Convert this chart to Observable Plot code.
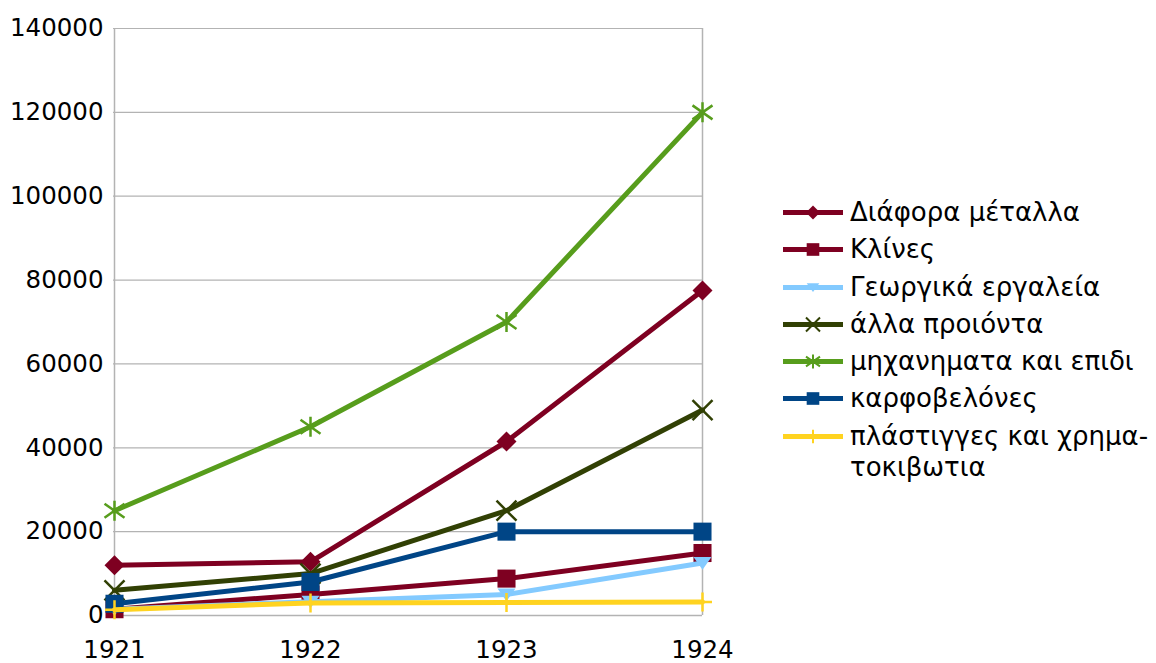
<!DOCTYPE html>
<html>
<head>
<meta charset="utf-8">
<script src="https://cdn.jsdelivr.net/npm/d3@7"></script>
<script src="https://cdn.jsdelivr.net/npm/@observablehq/plot@0.6"></script>
<style>
  html, body { margin: 0; padding: 0; background: #fff; }
  #wrap { position: relative; width: 1156px; height: 663px; font-family: "DejaVu Sans", sans-serif; }
  #legend { position: absolute; left: 783px; top: 0; }
  .item { position: absolute; left: 0; display: flex; align-items: flex-start; white-space: nowrap; }
  .item svg { flex: none; }
  .item span { font-size: 26px; line-height: 31px; color: #000; margin-left: 7px; }
</style>
</head>
<body>
<div id="wrap"><div id="legend"></div></div>
<script>
// ---- data ----
const years = ["1921", "1922", "1923", "1924"];
const seriesNames = [
  "Διάφορα μέταλλα",
  "Κλίνες",
  "Γεωργικά εργαλεία",
  "άλλα προιόντα",
  "μηχανηματα και επιδι",
  "καρφοβελόνες",
  "πλάστιγγες και χρημα-\nτοκιβωτια"
];
const diaforaMetalla = [12000, 12800, 41500, 77500];
const klines = [1500, 5000, 8800, 14900];
const georgikaErgaleia = [1500, 3300, 5000, 12500];
const allaProionta = [6000, 10000, 25000, 49000];
const michanimata = [25000, 45000, 70000, 120000];
const karfovelones = [2800, 8000, 20000, 20000];
const plastigges = [1400, 3000, 3100, 3200];
const yTicks = [0, 20000, 40000, 60000, 80000, 100000, 120000, 140000];

const seriesValues = [diaforaMetalla, klines, georgikaErgaleia, allaProionta, michanimata, karfovelones, plastigges];
const colors = ["#7e0021", "#7e0021", "#83caff", "#314004", "#579d1c", "#004586", "#ffd320"];

// ---- custom symbols ----
const sym = {
  diamond: {draw(c, s) { const r = Math.sqrt(s / Math.PI); c.moveTo(0, -r); c.lineTo(r, 0); c.lineTo(0, r); c.lineTo(-r, 0); c.closePath(); }},
  square: {draw(c, s) { const r = Math.sqrt(s / Math.PI) * 0.95; c.rect(-r, -r, 2 * r, 2 * r); }},
  triDown: {draw(c, s) { const r = Math.sqrt(s / Math.PI); c.moveTo(-0.75 * r, -0.5 * r); c.lineTo(0.75 * r, -0.5 * r); c.lineTo(0, 0.55 * r); c.closePath(); }},
  times: {draw(c, s) { const r = Math.sqrt(s / Math.PI); c.moveTo(-r, -r); c.lineTo(r, r); c.moveTo(r, -r); c.lineTo(-r, r); }},
  star: {draw(c, s) { const r = Math.sqrt(s / Math.PI); c.moveTo(-r, -r * 0.7); c.lineTo(r, r * 0.7); c.moveTo(r, -r * 0.7); c.lineTo(-r, r * 0.7); c.moveTo(0, -r); c.lineTo(0, r); }},
  plus: {draw(c, s) { const r = Math.sqrt(s / Math.PI); c.moveTo(-r, 0); c.lineTo(r, 0); c.moveTo(0, -r); c.lineTo(0, r); }}
};
const symbols = [sym.diamond, sym.square, sym.triDown, sym.times, sym.star, sym.square, sym.plus];
const filled = [true, true, true, false, false, true, false];
const sizes = [10, 9.5, 12, 10, 10, 9.5, 9.5];

const rows = [];
seriesNames.forEach((name, i) => years.forEach((yr, j) => rows.push({series: name, year: yr, value: seriesValues[i][j], idx: i})));

const marks = [
  Plot.gridY(yTicks, {stroke: "#b3b3b3", strokeOpacity: 1, strokeWidth: 1.2}),
  Plot.ruleX(["1921", "1924"], {stroke: "#b3b3b3", strokeWidth: 1.5}),
  Plot.ruleY([0], {stroke: "#b3b3b3", strokeWidth: 1.5})
];
seriesNames.forEach((name, i) => {
  const d = rows.filter(r => r.idx === i);
  marks.push(Plot.line(d, {x: "year", y: "value", stroke: colors[i], strokeWidth: 5, strokeLinejoin: "round"}));
  marks.push(Plot.dot(d, {
    x: "year", y: "value", symbol: () => symbols[i], r: sizes[i],
    fill: filled[i] ? colors[i] : "none",
    stroke: filled[i] ? "none" : colors[i],
    strokeWidth: 2.5
  }));
});

const chart = Plot.plot({
  width: 1156, height: 663,
  marginLeft: 113, marginRight: 454, marginTop: 28, marginBottom: 48,
  style: {fontFamily: "DejaVu Sans, sans-serif", fontSize: "24.5px", color: "#000", background: "#fff"},
  x: {type: "point", domain: years, padding: 0, label: null, tickSize: 0, tickPadding: 25},
  y: {domain: [0, 140000], ticks: yTicks, label: null, tickSize: 0, tickPadding: 10, tickFormat: d => String(d)},
  symbol: {type: "identity"},
  marks
});
document.getElementById("wrap").prepend(chart);

// ---- legend ----
const legend = document.getElementById("legend");
const rowCenters = [212, 249.5, 287, 324, 361, 398.5, 436];
seriesNames.forEach((name, i) => {
  const item = document.createElement("div");
  item.className = "item";
  item.style.top = (rowCenters[i] - 15.5) + "px";
  const svg = d3.create("svg").attr("width", 60).attr("height", 31);
  svg.append("line").attr("x1", 0).attr("x2", 60).attr("y1", 15.5).attr("y2", 15.5)
    .attr("stroke", colors[i]).attr("stroke-width", 5);
  const r = sizes[i] * 0.7;
  svg.append("path").attr("transform", "translate(30,15.5)")
    .attr("d", d3.symbol(symbols[i], Math.PI * r * r)())
    .attr("fill", filled[i] ? colors[i] : "none")
    .attr("stroke", filled[i] ? "none" : colors[i]).attr("stroke-width", 2);
  item.appendChild(svg.node());
  const span = document.createElement("span");
  span.innerHTML = name.split("\n").join("<br>");
  item.appendChild(span);
  legend.appendChild(item);
});
</script>
</body>
</html>
